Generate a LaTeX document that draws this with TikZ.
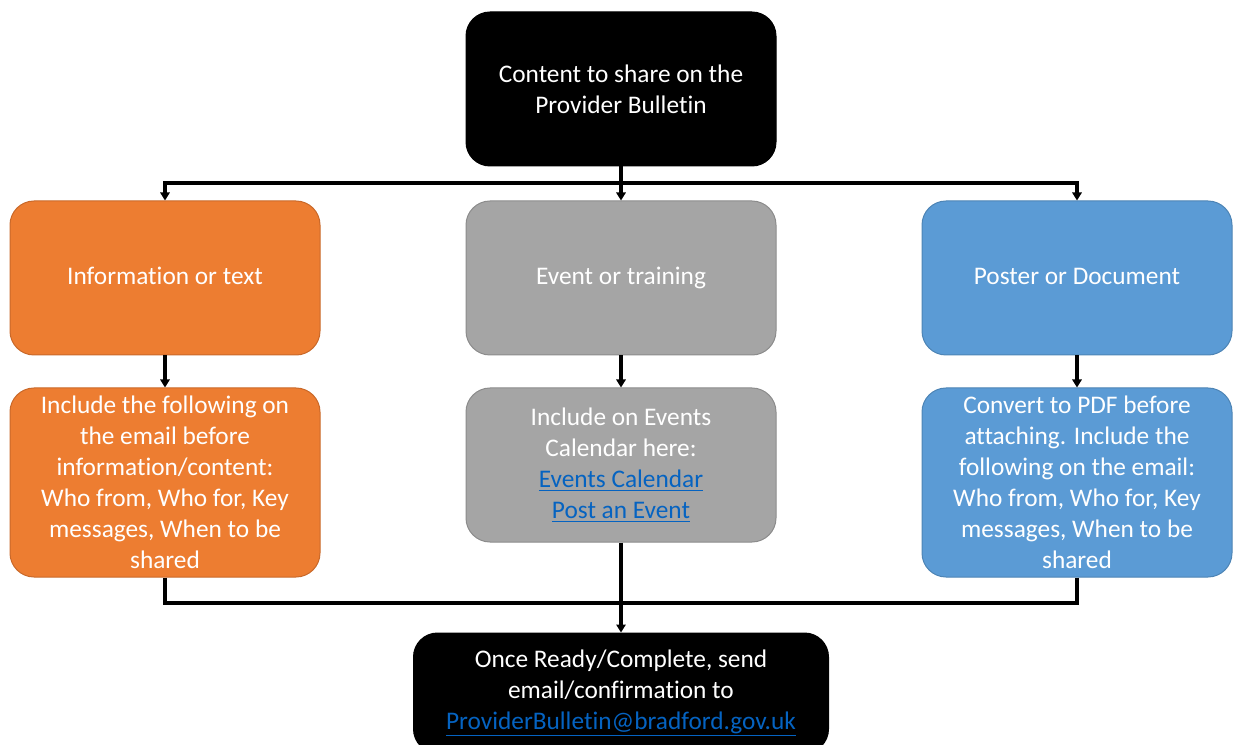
\documentclass[tikz,border=0pt]{standalone}
\usepackage{fontspec}
\setmainfont{Carlito}[Ligatures={NoCommon}]
\usetikzlibrary{arrows.meta,positioning}

\definecolor{boxorange}{HTML}{ED7D31}
\definecolor{lineorange}{HTML}{C9692A}
\definecolor{boxgrey}{HTML}{A5A5A5}
\definecolor{linegrey}{HTML}{8C8C8C}
\definecolor{boxblue}{HTML}{5B9BD5}
\definecolor{lineblue}{HTML}{4D84B5}
\definecolor{linkblue}{HTML}{0563C1}

\newcommand{\weblink}[1]{{\color{linkblue}\underline{#1}}}

\tikzset{
  box/.style={draw, rounded corners=18pt, inner sep=0pt, align=center,
    text=white, line width=0.75pt, minimum width=232.5pt, minimum height=115.5pt,
    font=\fontsize{19}{23.25}\selectfont},
  darkbox/.style={box, fill=black, draw=black},
  orangebox/.style={box, fill=boxorange, draw=lineorange},
  greybox/.style={box, fill=boxgrey, draw=linegrey},
  bluebox/.style={box, fill=boxblue, draw=lineblue},
  tallbox/.style={minimum height=141.75pt},
  wire/.style={line width=2.4pt},
}

\begin{document}
\begin{tikzpicture}[x=0.75pt,y=-0.75pt,>={Triangle[length=6pt,width=7pt]}]
  \useasboundingbox (0,0) rectangle (1236,745);
  \clip (0,0) rectangle (1236,745);

  % top
  \node[darkbox] (top) at (621,89) {Content to share on the\\Provider Bulletin};

  % first row
  \node[greybox] (event) [below=25.5pt of top] {\strut Event or training};
  \node[orangebox] (info) [left=108.75pt of event] {\strut Information or text};
  \node[bluebox] (poster) [right=108.75pt of event] {\strut Poster or Document};

  % second row
  \node[orangebox,tallbox] (infodet) [below=24pt of info]
    {Include the following on\\the email before\\information/content:\\Who from, Who for, Key\\messages, When to be\\shared};
  \node[greybox] (eventdet) [below=24pt of event]
    {Include on Events\\Calendar here:\\\weblink{Events Calendar}\\\weblink{Post an Event}};
  \node[bluebox,tallbox] (posterdet) [below=24pt of poster]
    {Convert to PDF before\\attaching. Include the\\following on the email:\\Who from, Who for, Key\\messages, When to be\\shared};

  % bottom
  \node[darkbox,minimum width=311.25pt,minimum height=90pt] (final) [below=67.5pt of eventdet]
    {Once Ready/Complete, send\\email/confirmation to\\\weblink{ProviderBulletin@bradford.gov.uk}};

  \coordinate (split) at (621,183);
  \coordinate (join) at (621,603);

  \draw[wire,->] (top.south) -- (event.north);
  \draw[wire,->] (split) -| (info.north);
  \draw[wire,->] (split) -| (poster.north);
  \draw[wire,->] (info.south) -- (infodet.north);
  \draw[wire,->] (event.south) -- (eventdet.north);
  \draw[wire,->] (poster.south) -- (posterdet.north);
  \draw[wire] (infodet.south) |- (join);
  \draw[wire] (posterdet.south) |- (join);
  \draw[wire,->] (eventdet.south) -- (final.north);
\end{tikzpicture}
\end{document}
